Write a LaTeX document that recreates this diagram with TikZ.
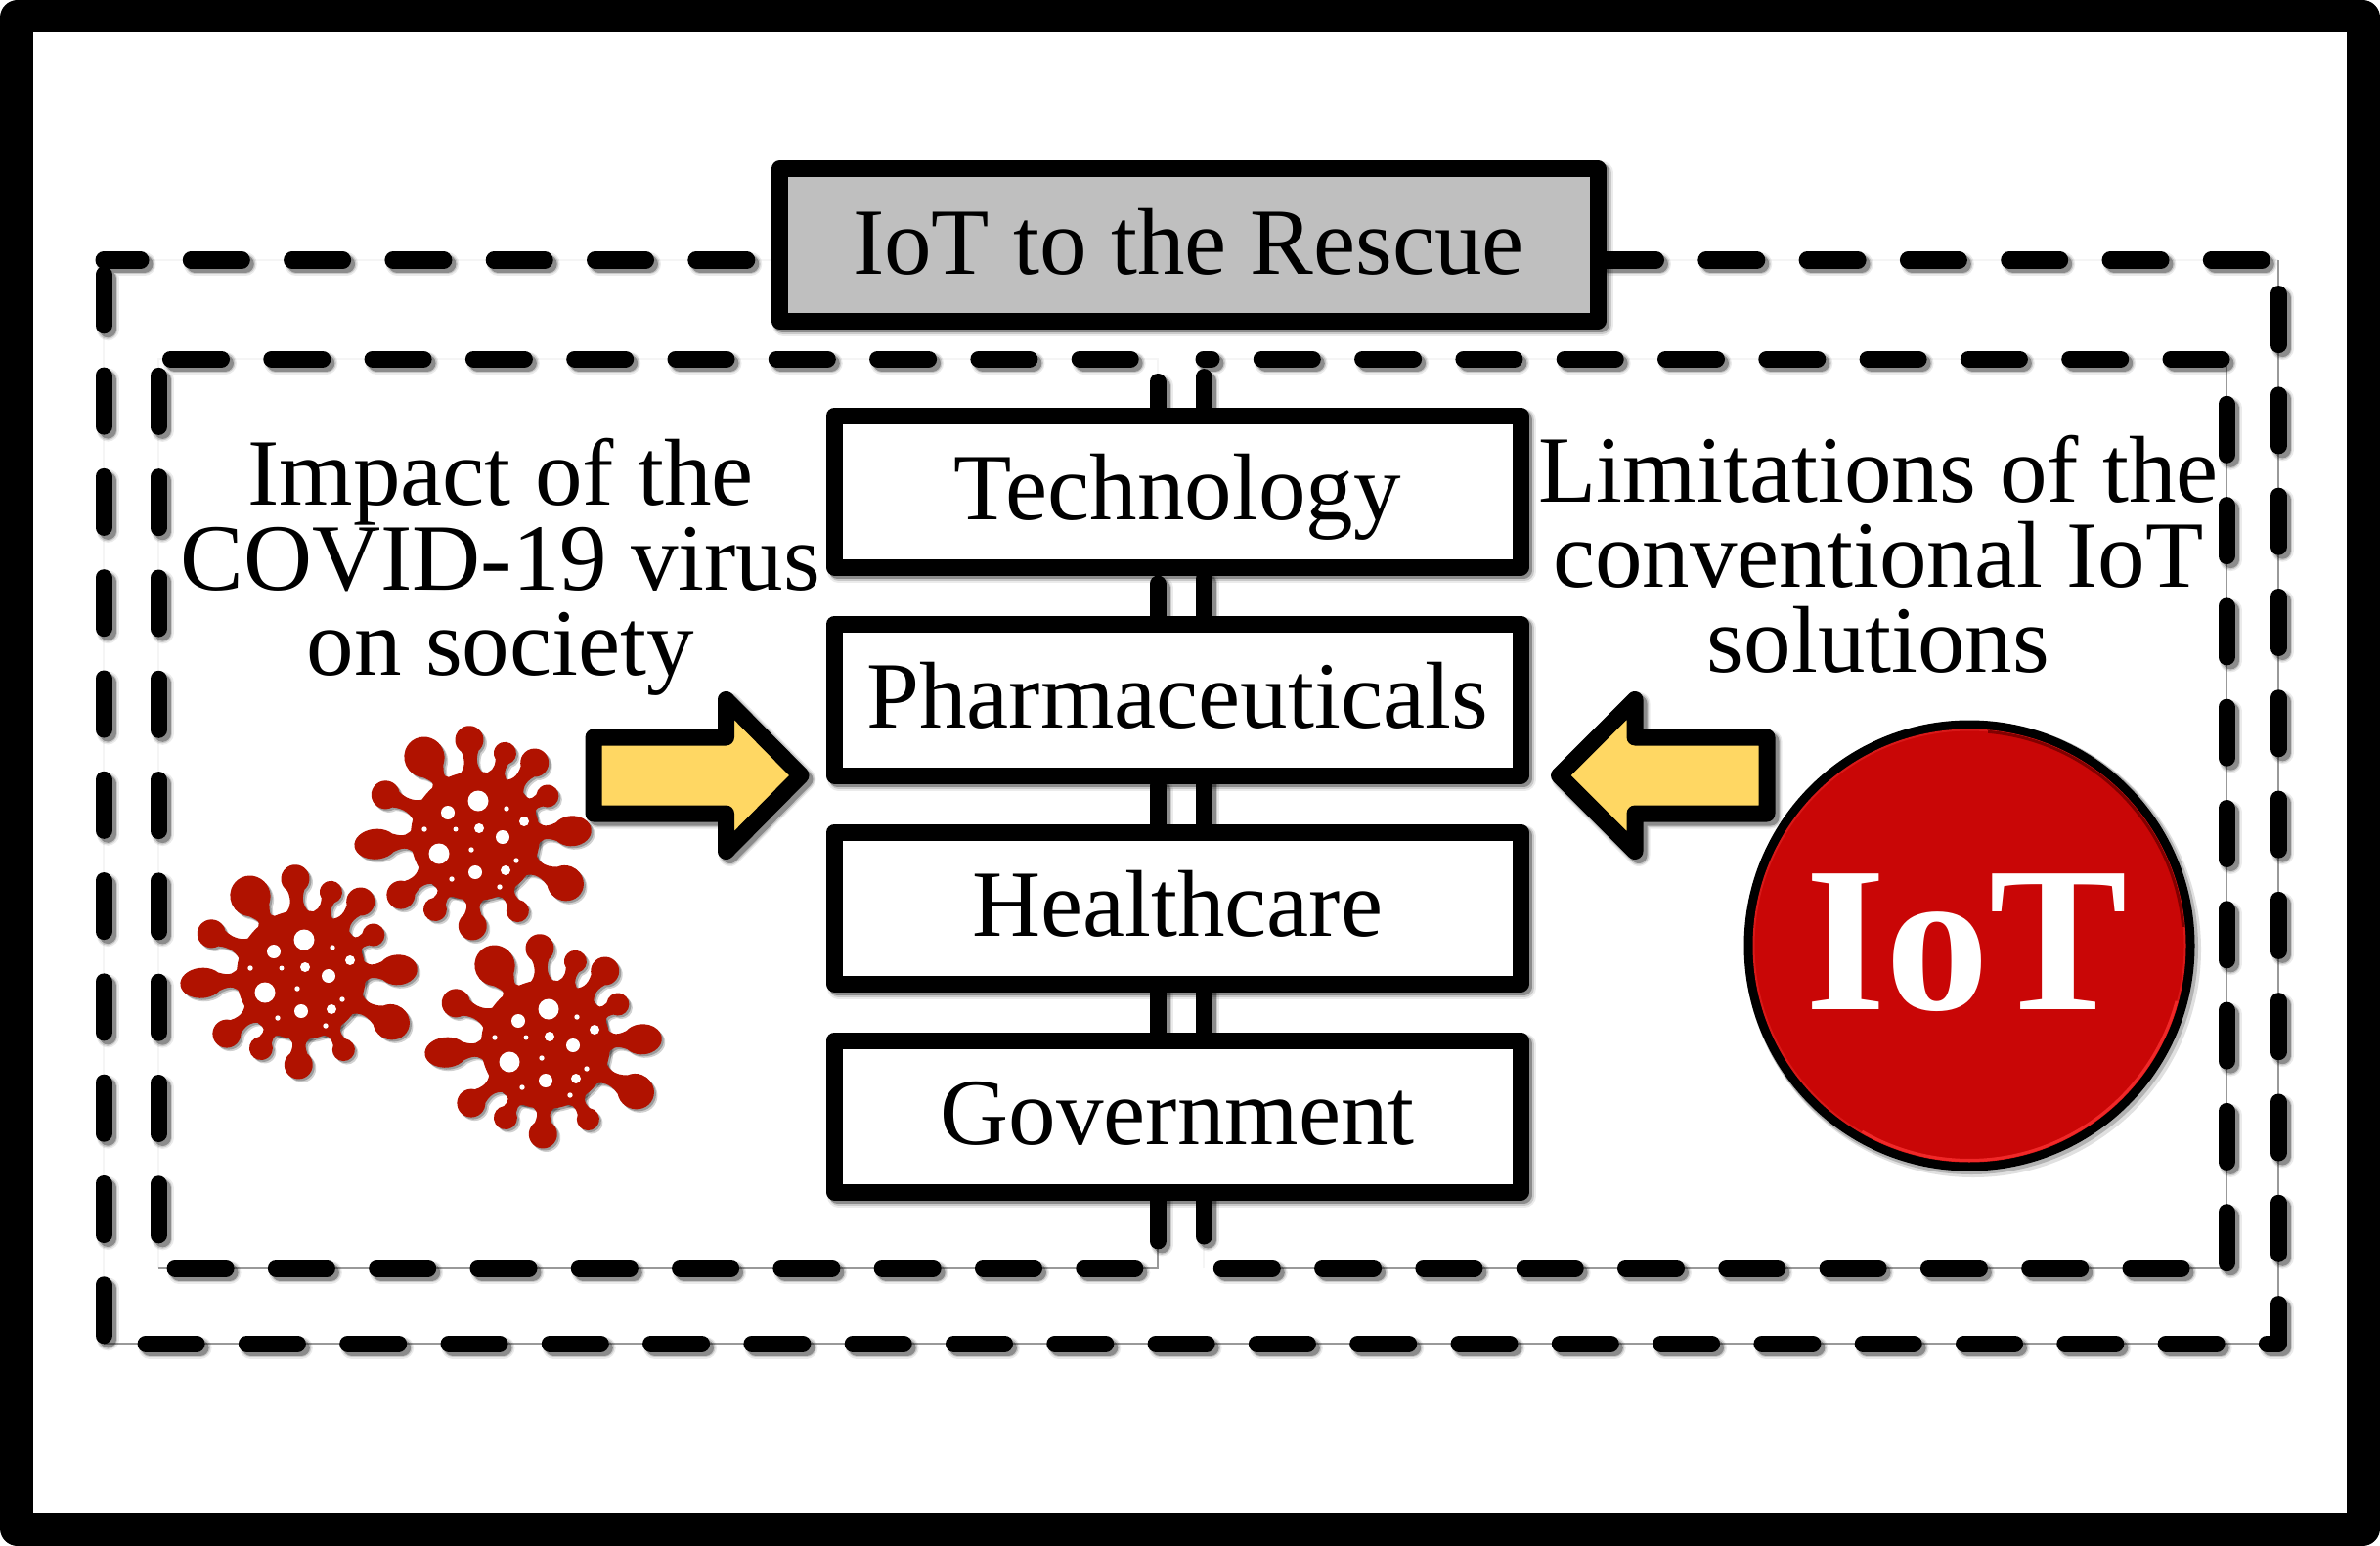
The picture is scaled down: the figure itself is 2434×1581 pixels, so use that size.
\documentclass[tikz,border=0pt]{standalone}
\usepackage{fontspec}
\setmainfont{Liberation Serif}
\usetikzlibrary{shadows}
\definecolor{virusred}{HTML}{B01200}
\definecolor{iotred}{HTML}{C90606}
\definecolor{rimred}{HTML}{D81818}
\definecolor{rimbright}{HTML}{F02828}
\definecolor{rimdark}{HTML}{800000}
\definecolor{arrowyellow}{HTML}{FFD763}
\definecolor{titlegray}{HTML}{BFBFBF}
\tikzset{
  softshadow/.style={
    general shadow={shadow xshift=4pt,shadow yshift=-4pt,fill=none,draw=black,line width=23pt,opacity=.08},
    general shadow={shadow xshift=4pt,shadow yshift=-4pt,fill=none,draw=black,line width=20pt,opacity=.14},
    general shadow={shadow xshift=3pt,shadow yshift=-3pt,fill=none,draw=black,line width=17pt,opacity=.3}},
  boxbase/.style={draw=black,line width=17pt,line join=round,rectangle,inner sep=0pt,outer sep=0pt,
    font=\fontsize{97}{97}\selectfont,text height=80pt,text depth=23pt,softshadow},
  titlebox/.style={boxbase,fill=titlegray,minimum width=837pt,minimum height=155pt,text height=81pt,text depth=21pt},
  sectorbox/.style={boxbase,fill=white,minimum width=701.5pt,minimum height=155pt},
  caption/.style={font=\fontsize{97}{87}\selectfont,align=center,inner sep=0pt,outer sep=0pt},
  frameline/.style={draw=black,line width=17pt,line cap=round,line join=round,dash pattern=on 52pt off 51.3pt},
  hairline/.style={draw=black!40,line width=1.6pt},
  faintline/.style={draw=black!4,line width=1.6pt},
  arrowshape/.style={draw=black,fill=arrowyellow,line width=17pt,line join=round}
}
\newcommand{\shadowed}[2]{%
  \foreach \w/\o in {23/.08,20/.14,17/.3}{%
    \draw[#1,draw=black,fill=none,opacity=\o,line width=\w pt,transform canvas={shift={(4pt,-4pt)}}] #2;}%
  \draw[#1] #2;}
% spike: angle, distance, along radius, across radius
\newcommand{\spike}[4]{%
  \fill[rotate=#1] (62,-14) .. controls (68,-7) and ({#2-#3-8},-4.5) .. ({#2-0.8*#3},{-0.6*#4})
    arc[start angle=-143,end angle=143,x radius=#3,y radius=#4]
    .. controls ({#2-#3-8},4.5) and (68,7) .. (62,14) -- cycle;}
\newcommand{\virusbody}{%
  \fill (0,0) circle[radius=66];
  \spike{93.5}{98.5}{14.5}{14.5}\spike{122.8}{96}{21}{20.5}\spike{70.2}{90}{11.5}{11.5}
  \spike{51}{96.5}{14.5}{14.5}\spike{29}{84.5}{11.5}{11.5}\spike{3}{99}{20}{15.5}
  \spike{-27.6}{104}{19}{18}\spike{-60.5}{88}{11.5}{11.5}\spike{-91.7}{92}{14.5}{14.5}
  \spike{-118.7}{85.5}{12}{12}\spike{-141.7}{97}{14.5}{14.5}\spike{-175.4}{102}{22}{15.5}
  \spike{155.3}{101}{14.5}{14.5}}
\newcommand{\virus}[2]{%
  \begin{scope}[shift={(#1,#2)},x=1pt,y=1pt]
    \begin{scope}[transform canvas={shift={(3.5pt,-3.5pt)}},fill=black,opacity=.18]\virusbody\end{scope}
    \begin{scope}[transform canvas={shift={(2pt,-2pt)}},fill=black,opacity=.25]\virusbody\end{scope}
    \begin{scope}[fill=virusred]\virusbody\end{scope}
    \foreach \hx/\hy/\hr in {3/36/10.5,-28/24/7,32/28/2.7,50/15/5,-52/7/2.7,-20/7/2.5,4/8/5,28/-1/7,-37/-18/10.5,-4/-14/2.7,42/-25/2.7,0/-37/7,31/-35/5,-24/-44/2.7,25/-52/2.7}
      \fill[white] (\hx,\hy) circle[radius=\hr];
  \end{scope}}
\begin{document}
\begin{tikzpicture}[x=1pt,y=-1pt]
\useasboundingbox (0,0) rectangle (2434,1581);
% page border
\fill[white] (0,0) rectangle (2434,1581);
\fill[black,rounded corners=18pt] (0,0) rectangle (2434,1581);
\fill[white] (34,33) rectangle (2400,1547);
% frame corners
\coordinate (oTL) at (106,266);\coordinate (oTR) at (2330,266);
\coordinate (oBR) at (2330,1374);\coordinate (oBL) at (106,1374);
\coordinate (lStart) at (174.5,367);\coordinate (lTL) at (162,367);\coordinate (lTR) at (1184,367);
\coordinate (lBR) at (1184,1297);\coordinate (lBL) at (162,1297);
\coordinate (rTL) at (1231,367);\coordinate (rTR) at (2277,367);
\coordinate (rBR) at (2277,1297);\coordinate (rBL) at (1231,1297);\coordinate (rBLgap) at (1250,1297);
\coordinate (lStubEnd) at (1184,1275);
% hairlines in the gaps of the dashes
\draw[faintline] (oBL) -- (oTL) -- (oTR);
\draw[hairline] (oBL) -- (oBR) -- (oTR);
\draw[faintline] (lBL) -- (lTL) -- (lTR) -- (lStubEnd);
\draw[hairline] (lBL) -- (lBR) -- (lStubEnd);
\draw[faintline] (rBL) -- (rTL) -- (rTR);
\draw[hairline] (rBLgap) -- (rBR) -- (rTR);
% dashed frames
\shadowed{frameline,dash phase=14pt}{(oTL) -- (oTR) -- (oBR) -- (oBL) -- (oTL)}
\shadowed{frameline}{(lStart) -- (lTR) -- (lBR) -- (lBL) -- (lTL) -- (lStart)}
\shadowed{frameline,dash phase=44pt}{(rTL) -- (rTR) -- (rBR) -- (rBL) -- (rTL)}
% boxes
\node[titlebox] (title) at (1215.5,250.5) {IoT to the Rescue};
\node[sectorbox] (tech) at (1204.25,502.5) {Technology};
\node[sectorbox] (pharma) at (1204.25,715.5) {Pharmaceuticals};
\node[sectorbox] (health) at (1204.25,928.5) {Healthcare};
\node[sectorbox] (gov) at (1204.25,1141.5) {Government};
% captions
\node[caption] (impact) at (512,579.5) {Impact of the\\COVID-19 virus\\on society};
\node[caption] (limits) at (1921,567) {Limitations of the\\conventional IoT\\solutions};
% arrows
\coordinate (a1) at (607,754);\coordinate (a2) at (742.5,754);\coordinate (a3) at (742.5,715.5);
\coordinate (a4) at (819,793);\coordinate (a5) at (742.5,870.5);\coordinate (a6) at (742.5,832);\coordinate (a7) at (607,832);
\shadowed{arrowshape}{(a1) -- (a2) -- (a3) -- (a4) -- (a5) -- (a6) -- (a7) -- cycle}
\coordinate (b1) at (1807,754);\coordinate (b2) at (1672,754);\coordinate (b3) at (1672,715.5);
\coordinate (b4) at (1594.5,793);\coordinate (b5) at (1672,870.5);\coordinate (b6) at (1672,832);\coordinate (b7) at (1807,832);
\shadowed{arrowshape}{(b1) -- (b2) -- (b3) -- (b4) -- (b5) -- (b6) -- (b7) -- cycle}
% viruses
\virus{486}{855}
\virus{308}{997}
\virus{558}{1068}
% IoT button
\fill[black,opacity=.12] (2018,971) circle[radius=233];
\fill[black,opacity=.2] (2016,969) circle[radius=232];
\fill[black] (2014,967) circle[radius=230.5];
\node[circle,fill=iotred,draw=rimred,line width=2pt,minimum size=441pt,inner sep=0pt,outer sep=0pt] (iot) at (2014,967) {};
\node[inner sep=0pt,outer sep=0pt,text=white,font=\fontsize{212}{212}\selectfont\bfseries,anchor=base] (iotlabel) at (2011,1032) {IoT};
\draw[rimdark,line width=3pt] (iot.center) ++(-85:219.5) arc[start angle=-85,end angle=-5,radius=219.5];
\draw[rimbright,line width=3pt] (iot.center) ++(15:219.5) arc[start angle=15,end angle=120,radius=219.5];
\end{tikzpicture}
\end{document}
